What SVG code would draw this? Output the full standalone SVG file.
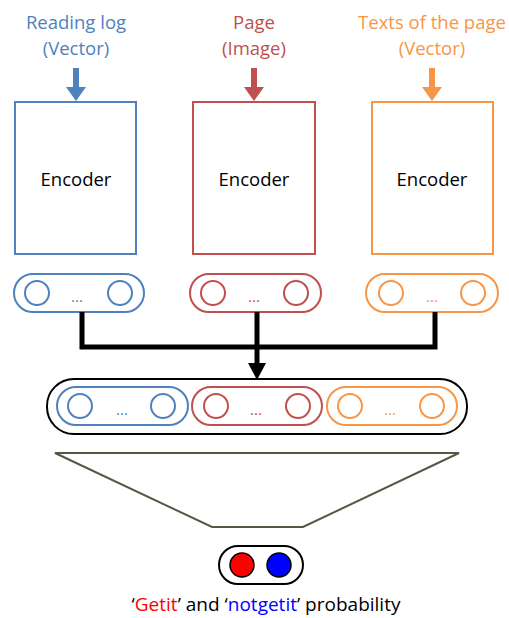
<svg xmlns="http://www.w3.org/2000/svg" width="509" height="618" viewBox="0 0 509 618">
<defs>
<style>
text{font-family:"Open Sans","Liberation Sans",sans-serif;font-size:18.5px;text-anchor:middle}
.b{stroke:#4F81BD;fill:none;stroke-width:2}
.r{stroke:#C0504D;fill:none;stroke-width:2}
.o{stroke:#F79646;fill:none;stroke-width:2}
.k{stroke:#000;fill:none;stroke-width:2}
.tb{fill:#4F81BD}.tr{fill:#C0504D}.to{fill:#F79646}
.d{font-size:15px}
</style>
</defs>
<rect width="509" height="618" fill="#fff"/>
<g id="in-reading">
<text class="tb" x="76" y="29">Reading log</text>
<text class="tb" x="76" y="55">(Vector)</text>
<path d="M73 68h6v19h7l-10 14l-10-14h7z" fill="#4F81BD"/>
</g>
<g id="in-page">
<text class="tr" x="254" y="29">Page</text>
<text class="tr" x="254" y="55">(Image)</text>
<path d="M251 68h6v19h7l-10 14l-10-14h7z" fill="#C0504D"/>
</g>
<g id="in-texts">
<text class="to" x="432" y="29">Texts of the page</text>
<text class="to" x="432" y="55">(Vector)</text>
<path d="M429 68h6v19h7l-10 14l-10-14h7z" fill="#F79646"/>
</g>
<g id="enc-blue"><rect class="b" x="15" y="102" width="121" height="152"/><text x="76" y="186">Encoder</text></g>
<g id="enc-red"><rect class="r" x="193" y="102" width="122" height="152"/><text x="254" y="186">Encoder</text></g>
<g id="enc-orange"><rect class="o" x="372" y="102" width="121" height="152"/><text x="432" y="186">Encoder</text></g>
<g id="vec-blue"><rect class="b" x="14" y="274" width="130" height="38" rx="19"/><circle class="b" cx="37" cy="293" r="12"/><circle class="b" cx="120" cy="293" r="12"/><text class="tb d" x="77" y="302">...</text></g>
<g id="vec-red"><rect class="r" x="190" y="274" width="131" height="38" rx="19"/><circle class="r" cx="213" cy="293" r="12"/><circle class="r" cx="296" cy="293" r="12"/><text class="tr d" x="254" y="302">...</text></g>
<g id="vec-orange"><rect class="o" x="366" y="274" width="132" height="38" rx="19"/><circle class="o" cx="391" cy="293" r="12"/><circle class="o" cx="473" cy="293" r="12"/><text class="to d" x="432" y="302">...</text></g>
<g id="connectors">
<path d="M82 312V347H435V312M257 312V364" fill="none" stroke="#000" stroke-width="5"/>
<path d="M248 363h18l-9 17z" fill="#000"/>
</g>
<g id="concat">
<rect class="k" x="47" y="379" width="420" height="55" rx="27"/>
<rect class="b" x="57" y="387" width="131" height="38" rx="19"/><circle class="b" cx="80" cy="406" r="12"/><circle class="b" cx="163" cy="406" r="12"/><text class="tb d" x="122" y="415">...</text>
<rect class="r" x="192" y="387" width="130" height="38" rx="19"/><circle class="r" cx="216" cy="406" r="12"/><circle class="r" cx="298" cy="406" r="12"/><text class="tr d" x="256" y="415">...</text>
<rect class="o" x="327" y="387" width="130" height="38" rx="19"/><circle class="o" cx="350" cy="406" r="12"/><circle class="o" cx="432" cy="406" r="12"/><text class="to d" x="390" y="415">...</text>
</g>
<g id="dense"><path d="M55 453H459L303 527H212Z" fill="none" stroke="#5A5646" stroke-width="2"/></g>
<g id="output">
<rect class="k" x="219" y="546" width="84" height="38" rx="19"/>
<circle cx="242" cy="565" r="12" fill="#FF0000" stroke="#000" stroke-width="1.5"/>
<circle cx="279" cy="565" r="12" fill="#0000FF" stroke="#000" stroke-width="1.5"/>
</g>
<g id="caption"><text x="266" y="611" style="font-size:19px">‘<tspan fill="#FF0000">Getit</tspan>’ and ‘<tspan fill="#0000FF">notgetit</tspan>’ probability</text></g>
</svg>
